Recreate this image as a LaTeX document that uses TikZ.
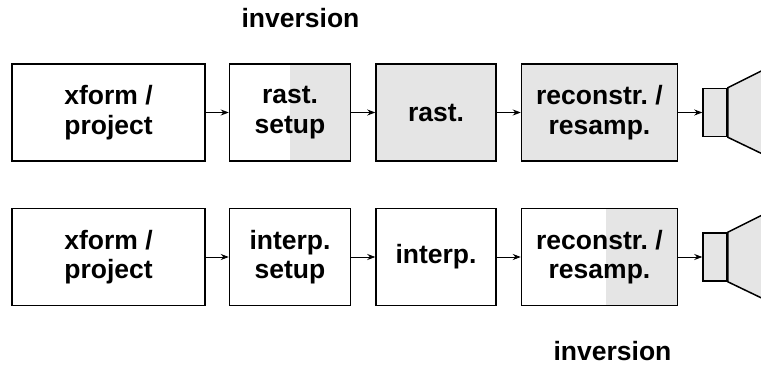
\documentclass[tikz,border=0pt]{standalone}
\usepackage{fontspec}
\setmainfont{Liberation Sans}
\usetikzlibrary{arrows.meta,positioning,calc}
\definecolor{inkpale}{HTML}{E5E5E5}

\begin{document}
\begin{tikzpicture}[x=1pt,y=1pt,node distance=24pt,>={Stealth[length=8pt,width=6pt]},
 stage/.style={draw,line width=1.5pt,minimum height=97pt,inner sep=0pt,align=center,font=\frenchspacing\bfseries\fontsize{26.5}{29.5}\selectfont},
 grey/.style={stage,fill=inkpale},
 halfgrey/.style={stage,path picture={\fill[inkpale] ($(path picture bounding box.south)+(#1,0)$) rectangle (path picture bounding box.north east);}},
 horn/.style={draw,line width=1.5pt,fill=inkpale},
 flow/.style={->,line width=0.8pt},
 tag/.style={anchor=base,font=\bfseries\fontsize{26.5}{29.5}\selectfont}]
 \useasboundingbox (0,0) rectangle (761,-366);
 % upper pipeline
 \node[stage,minimum width=193pt] (a1) at (108.5,-112.5) {xform /\\project};
 \node[halfgrey=0pt,minimum width=121pt,right=23pt of a1] (a2) {rast.\\setup};
 \node[grey,minimum width=120pt,right=of a2] (a3) {rast.};
 \node[grey,minimum width=156pt,right=of a3] (a4) {reconstr. /\\resamp.};
 \node[horn,minimum width=24pt,minimum height=48pt,inner sep=0pt,right=of a4] (s1) {};
 \draw[horn] (s1.north east) -- ++(80,40) -- ++(0,-128) -- (s1.south east) -- cycle;
 \draw[flow] (a1) -- (a2);
 \draw[flow] (a2) -- (a3);
 \draw[flow] (a3) -- (a4);
 \draw[flow] (a4) -- (s1);
 % lower pipeline
 \node[stage,minimum width=193pt,below=46pt of a1] (b1) {xform /\\project};
 \node[stage,minimum width=121pt,right=23pt of b1] (b2) {interp.\\setup};
 \node[stage,minimum width=120pt,right=of b2] (b3) {interp.};
 \node[halfgrey=6pt,minimum width=156pt,right=of b3] (b4) {reconstr. /\\resamp.};
 \node[horn,minimum width=24pt,minimum height=48pt,inner sep=0pt,right=of b4] (s2) {};
 \draw[horn] (s2.north east) -- ++(80,40) -- ++(0,-128) -- (s2.south east) -- cycle;
 \draw[flow] (b1) -- (b2);
 \draw[flow] (b2) -- (b3);
 \draw[flow] (b3) -- (b4);
 \draw[flow] (b4) -- (s2);
 % labels
 \node[tag] (t1) at (300.5,-28) {inversion};
 \node[tag] (t2) at (612.5,-360) {inversion};
\end{tikzpicture}
\end{document}
